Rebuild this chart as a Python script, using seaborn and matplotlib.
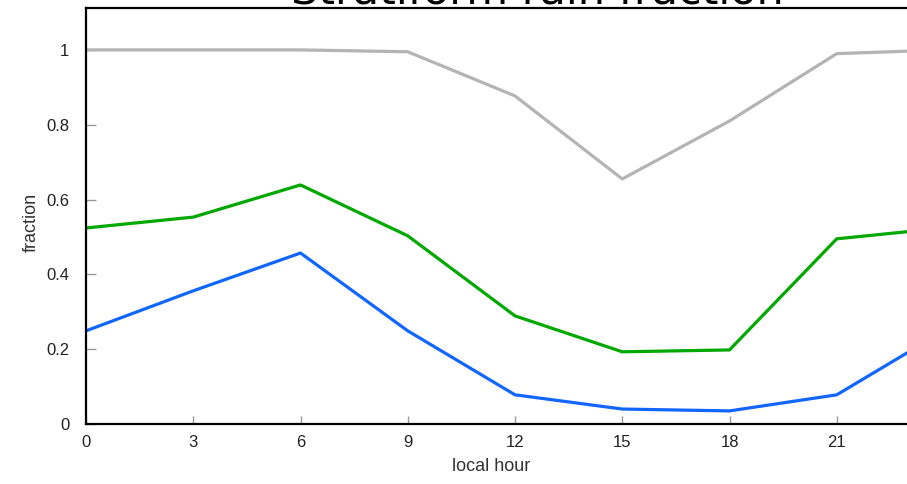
import matplotlib
matplotlib.use("Agg")
import matplotlib.pyplot as plt
import seaborn as sns
import pandas as pd

# Diurnal cycle of stratiform rain fraction (3-hourly, hour 24 wraps to hour 0)
hours = [0, 3, 6, 9, 12, 15, 18, 21, 24]
gray_vals = [1.000, 1.000, 1.000, 0.995, 0.877, 0.655, 0.810, 0.990, 1.000]
green_vals = [0.524, 0.553, 0.639, 0.503, 0.289, 0.193, 0.198, 0.495, 0.524]
blue_vals = [0.249, 0.356, 0.457, 0.249, 0.078, 0.040, 0.035, 0.078, 0.249]

series_names = ["gray", "green", "blue"]
series_colors = ["#b4b4b4", "#00a800", "#1166ff"]

x_ticks = [0, 3, 6, 9, 12, 15, 18, 21]
y_ticks = [0, 0.2, 0.4, 0.6, 0.8, 1.0]
y_tick_labels = ["0", "0.2", "0.4", "0.6", "0.8", "1"]

df = pd.DataFrame({
    "hour": hours * 3,
    "fraction": gray_vals + green_vals + blue_vals,
    "series": [s for s in series_names for _ in hours],
})

sns.set_style("white")
plt.rcParams["font.family"] = ["Liberation Sans", "DejaVu Sans"]

fig = plt.figure(figsize=(9.07, 4.84), dpi=100)
ax = fig.add_axes([86 / 907, 60 / 484, 858 / 907, 416 / 484])

sns.lineplot(
    data=df, x="hour", y="fraction", hue="series",
    hue_order=series_names, palette=series_colors,
    linewidth=2.3, legend=False, ax=ax,
)

ax.set_xlim(0, 24)
ax.set_ylim(0, 1.112)
ax.set_xticks(x_ticks)
ax.set_xticklabels([str(t) for t in x_ticks])
ax.set_yticks(y_ticks)
ax.set_yticklabels(y_tick_labels)

for side in ["left", "bottom", "top"]:
    ax.spines[side].set_visible(True)
    ax.spines[side].set_color("black")
    ax.spines[side].set_linewidth(1.6)
ax.spines["right"].set_visible(False)

ax.tick_params(axis="both", direction="in", color="#9a9a9a", width=1.0,
               labelsize=12, labelcolor="#222222",
               bottom=True, left=True, top=False, right=False)
ax.tick_params(axis="x", length=6, pad=8)
ax.tick_params(axis="y", length=7, pad=12)

ax.set_xlabel("local hour", fontsize=13, color="#333333")
ax.set_ylabel("fraction", fontsize=13, color="#333333")
ax.xaxis.set_label_coords((491 - 86) / 858, -(458 - 424) / 416)
ax.yaxis.set_label_coords(-(86 - 40) / 858, (424 - 222) / 416)

fig.text(537 / 907, 1 - 3 / 484, "Stratiform rain fraction",
         ha="center", va="baseline", fontsize=31, family="DejaVu Sans",
         color="black")

fig.savefig("out.png", dpi=100)
